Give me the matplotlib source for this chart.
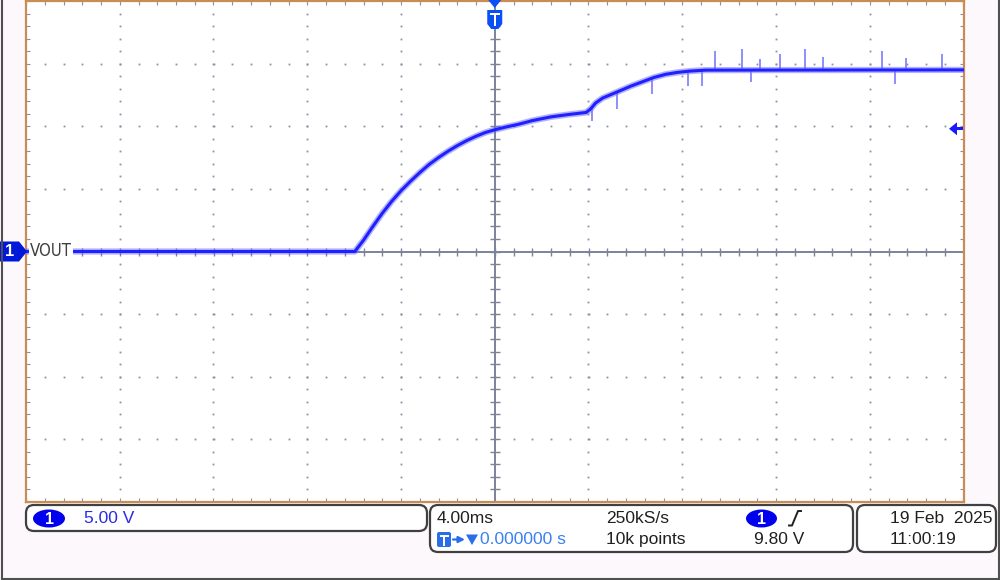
import numpy as np
import matplotlib
matplotlib.use('Agg')
import matplotlib.pyplot as plt
from matplotlib.patches import FancyBboxPatch, Polygon, Ellipse, Rectangle

# ---------------- data (read from the screen) ----------------
# time in ms, voltage in V (5 V/div, 4 ms/div)
trace_t = [-20.0, -5.97, -5.6, -5.2, -4.8, -4.4, -4.0, -3.6, -3.2, -2.8, -2.4,
           -2.0, -1.6, -1.2, -0.8, -0.4, 0.0, 0.5, 1.0, 1.6, 2.4, 3.2, 3.9,
           4.1, 4.3, 4.6, 5.2, 5.8, 6.3, 6.8, 7.3, 7.8, 8.3, 9.0, 20.0]
trace_v = [0.00, 0.00, 0.90, 2.00, 3.05, 4.00, 4.85, 5.60, 6.30, 6.95, 7.50,
           8.00, 8.45, 8.85, 9.20, 9.50, 9.72, 9.95, 10.15, 10.45, 10.75, 10.95, 11.10,
           11.40, 11.85, 12.25, 12.72, 13.20, 13.55, 13.90, 14.15, 14.30, 14.40, 14.48, 14.50]
# noise spikes: time (ms) and tip voltage (V)
spike_t = [4.14, 5.20, 6.69, 8.23, 8.86, 9.38, 10.53, 10.95, 11.30, 12.15,
           13.22, 13.99, 16.54, 17.06, 17.56, 19.10]
spike_v = [10.40, 11.36, 12.56, 13.20, 13.20, 16.00, 16.20, 13.50, 15.40, 15.80,
           16.20, 15.50, 16.00, 13.36, 15.44, 15.80]

trig_level = 9.80
ch1_scale = "5.00 V"
timebase = "4.00ms"
trig_pos = "0.000000 s"
sample_rate = "250kS/s"
rec_len = "10k points"
trig_text = "9.80 V"
date_text = "19 Feb  2025"
time_text = "11:00:19"
ch_label = "VOUT"

# ---------------- figure ----------------
W, H = 1000, 580
fig = plt.figure(figsize=(10, 5.8), dpi=100, facecolor='#fdf8fc')
ax = fig.add_axes([26 / W, 78 / H, 937.5 / W, 501 / H])
ax.set_facecolor('white')
ax.set_xlim(-20, 20)
ax.set_ylim(-20, 20)

gridc = '#8a90a8'
xmaj = np.arange(-20, 20.01, 4)
xmin = np.arange(-20, 20.01, 0.8)
ymaj = np.arange(-20, 20.01, 5)
ymin = np.arange(-20, 20.01, 1)

ax.set_xticks(xmaj)
ax.set_xticks(xmin, minor=True)
ax.set_yticks(ymaj)
ax.set_yticks(ymin, minor=True)
ax.tick_params(which='both', direction='in', length=3, width=0.8, color=gridc,
               top=True, right=True, labelbottom=False, labelleft=False)
for s in ax.spines.values():
    s.set_color('#c98c55')
    s.set_linewidth(1.6)

# dotted grid
for xv in xmaj[1:-1]:
    if abs(xv) < 1e-9:
        continue
    ax.plot(np.full(len(ymin) - 2, xv), ymin[1:-1], ls='none', marker='s',
            ms=1.3, mew=0, color=gridc, zorder=1)
for yv in ymaj[1:-1]:
    if abs(yv) < 1e-9:
        continue
    ax.plot(xmin[1:-1], np.full(len(xmin) - 2, yv), ls='none', marker='s',
            ms=1.3, mew=0, color=gridc, zorder=1)

# centre axes with cross ticks
cc = '#7c8298'
ax.axhline(0, color=cc, lw=1.4, zorder=2)
ax.axvline(0, color=cc, lw=1.4, zorder=2)
ax.plot(xmin[1:-1], np.zeros(len(xmin) - 2), ls='none', marker='|', ms=6,
        mew=1.0, color=cc, zorder=2)
ax.plot(np.zeros(len(ymin) - 2), ymin[1:-1], ls='none', marker='_', ms=7,
        mew=1.0, color=cc, zorder=2)

# trace
ax.plot(trace_t, trace_v, color='#6464ff', lw=4.5, alpha=0.5, zorder=3,
        solid_joinstyle='round', solid_capstyle='butt')
base = np.interp(spike_t, trace_t, trace_v)
ax.vlines(spike_t, base, spike_v, color='#7a7aff', lw=1.2, zorder=3)
ax.plot(trace_t, trace_v, color='#2020ff', lw=2.2, zorder=4,
        solid_joinstyle='round')

# ---------------- overlay in pixel coordinates ----------------
ov = fig.add_axes([0, 0, 1, 1], zorder=10)
ov.set_xlim(0, W)
ov.set_ylim(H, 0)
ov.axis('off')
ov.patch.set_alpha(0)

def to_px(x, y):
    dx, dy = ax.transData.transform((x, y))
    return dx, H - dy

blue = '#0a50f5'
# trigger position marker
tx, _ = to_px(0, 0)
ov.add_patch(Polygon([(tx - 6.5, 0), (tx + 6.5, 0), (tx, 8)], closed=True,
                     fc=blue, ec='none'))
ov.add_patch(Polygon([(tx - 7.5, 10), (tx + 7.5, 10), (tx + 7.5, 24),
                      (tx + 3.5, 29), (tx - 3.5, 29), (tx - 7.5, 24)],
                     closed=True, fc=blue, ec='none'))
ov.add_patch(Rectangle((tx - 5, 13), 10, 2.4, fc='white', ec='none'))
ov.add_patch(Rectangle((tx - 1.2, 13), 2.4, 13, fc='white', ec='none'))

# channel 1 ground marker
_, gy = to_px(0, 0)
ov.add_patch(Polygon([(0, gy - 10), (19, gy - 10), (27, gy), (19, gy + 10),
                      (0, gy + 10)], closed=True, fc='#0018d8', ec='none'))
ov.text(10, gy + 0.5, '1', color='white', fontsize=12, fontweight='bold',
        ha='center', va='center', family=['Liberation Sans', 'DejaVu Sans'])
ov.text(30, gy, ch_label, color='#404040', fontsize=12, ha='left', va='center',
        family=['DejaVu Sans'], fontstretch='condensed',
        bbox=dict(fc='white', ec='none', pad=0.5))

# trigger level marker
rx, ry = to_px(20, trig_level)
ov.add_patch(Polygon([(rx - 14.5, ry), (rx - 6.5, ry - 6.5), (rx - 6.5, ry + 6.5)],
                     closed=True, fc='#1a1aff', ec='none'))
ov.add_patch(Rectangle((rx - 7, ry - 1.5), 7, 3, fc='#1a1aff', ec='none'))

# outer screen border
ov.plot([1.5, 1.5], [0, 578.5], color='#505050', lw=1.5)
ov.plot([1.5, 998.5], [578.5, 578.5], color='#505050', lw=1.5)
ov.plot([998.5, 998.5], [0, 578.5], color='#505050', lw=1.5)

# status boxes
def box(x0, y0, x1, y1):
    ov.add_patch(FancyBboxPatch((x0, y0), x1 - x0, y1 - y0,
                                boxstyle='round,pad=0,rounding_size=8',
                                fc='white', ec='#404040', lw=1.6))

box(26, 505, 427, 531)
box(430, 505, 853, 552)
box(857, 505, 996, 552)

fam = ['Liberation Sans', 'DejaVu Sans']
fs = 12.5
dark = '#202020'
r1, r2 = 518.5, 539.5

ov.add_patch(Ellipse((49, r1), 32, 18, fc='#0000ee', ec='none'))
ov.text(49, r1 + 0.5, '1', color='white', fontsize=11.5, fontweight='bold',
        ha='center', va='center', family=fam)
ov.text(84, r1, ch1_scale, color='#2a2ae8', fontsize=fs, ha='left', va='center',
        family=fam)

ov.text(437, r1, timebase, color=dark, fontsize=fs, ha='left', va='center', family=fam)
# T -> v icon
ov.add_patch(FancyBboxPatch((437, 532), 14, 15, boxstyle='round,pad=0,rounding_size=2',
                            fc='#2a6de8', ec='none'))
ov.add_patch(Rectangle((439.5, 534.5), 9, 2.2, fc='white', ec='none'))
ov.add_patch(Rectangle((442.9, 534.5), 2.2, 11, fc='white', ec='none'))
ov.annotate('', xy=(465, 539.5), xytext=(453, 539.5),
            arrowprops=dict(arrowstyle='-|>', color='#2a6de8', lw=1.6,
                            mutation_scale=9, shrinkA=0, shrinkB=0))
ov.add_patch(Polygon([(466, 534.5), (478, 534.5), (472, 545)], closed=True,
                     fc='#2a6de8', ec='none'))
ov.text(480, r2, trig_pos, color='#3a80f0', fontsize=fs, ha='left', va='center',
        family=fam)

ov.text(606, r1, sample_rate, color=dark, fontsize=fs, ha='left', va='center', family=fam)
ov.text(606, r2, rec_len, color=dark, fontsize=fs, ha='left', va='center', family=fam)

ov.add_patch(Ellipse((761.5, r1), 31, 18, fc='#0000ee', ec='none'))
ov.text(761.5, r1 + 0.5, '1', color='white', fontsize=11.5, fontweight='bold',
        ha='center', va='center', family=fam)
ov.plot([789, 792, 798, 801], [525.5, 525.5, 511, 511], color=dark, lw=1.4)
ov.text(754, r2, trig_text, color=dark, fontsize=fs, ha='left', va='center', family=fam)

ov.text(890, r1, date_text, color=dark, fontsize=fs, ha='left', va='center', family=fam)
ov.text(890, r2, time_text, color=dark, fontsize=fs, ha='left', va='center', family=fam)

fig.savefig('out.png', dpi=100, facecolor=fig.get_facecolor())
